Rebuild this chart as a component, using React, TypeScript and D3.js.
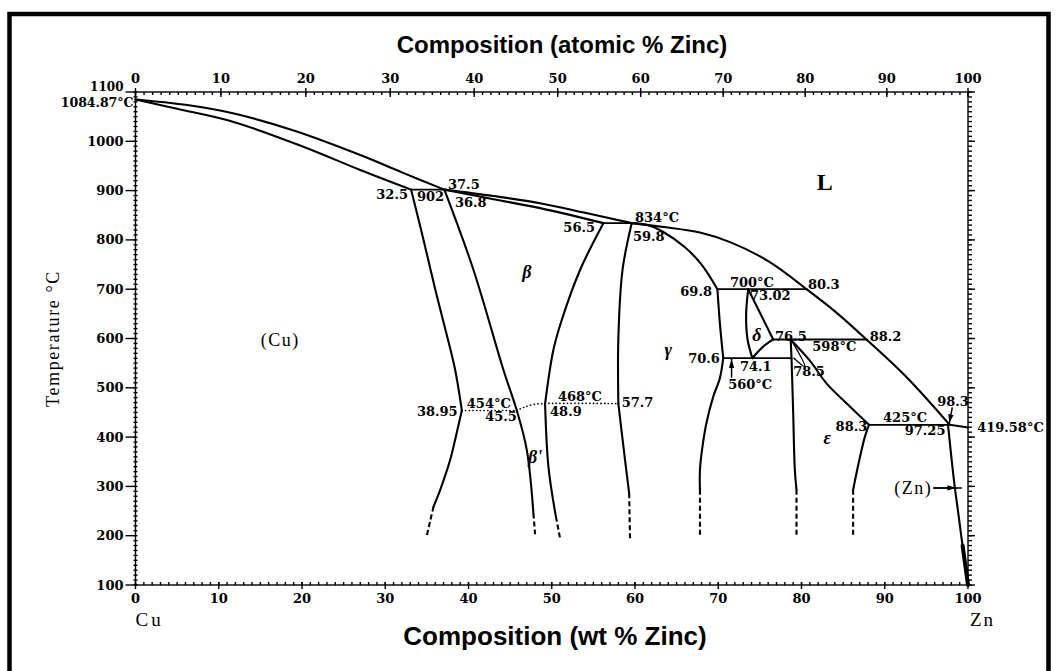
import React, { useRef, useEffect } from "react";
import * as d3 from "d3";

// axis ticks
const wtTicks = [0, 10, 20, 30, 40, 50, 60, 70, 80, 90, 100];
const atomicTicks = [0, 10, 20, 30, 40, 50, 60, 70, 80, 90, 100];
const tempTicks = [100, 200, 300, 400, 500, 600, 700, 800, 900, 1000, 1100];

// phase boundaries, [wt % Zn, temperature °C]
const liquidus = [
  [[0, 1084.87], [6, 1074], [11.7, 1056.8], [19, 1022], [27, 972.2], [32, 937], [37.1, 902]],
  [[37.1, 902], [43, 889], [48.6, 874.5], [54, 855], [59.6, 834]],
  [[59.6, 834], [63.5, 826], [67.8, 815], [71.5, 795], [76, 757], [80.6, 700]],
  [[80.6, 700], [84.3, 651], [87.8, 598]],
  [[87.8, 598], [92.6, 522], [97.8, 425]],
  [[97.8, 425], [100, 419.58]],
];
const alphaSolidus = [[0, 1084.87], [5, 1066], [11.7, 1039.8], [20, 990], [27, 941.8], [33.1, 902]];
const betaSolidus = [[37.1, 902], [43, 882.5], [48.6, 864.5], [56.2, 834]];
const alphaSolvus = [
  [[33.1, 902], [34.6, 800], [36.0, 700], [37.5, 600], [38.4, 536], [39.2, 454]],
  [[39.2, 454], [38.6, 410], [37.8, 354], [36.6, 293], [35.8, 259]],
];
const alphaSolvusDash = [[35.8, 259], [35.4, 230], [35.0, 201]];
const betaLeft = [[37.1, 902], [40.6, 739], [44.2, 536], [45.8, 454], [47.0, 374], [47.8, 245]];
const betaLeftDash = [[47.8, 245], [48.0, 203]];
const betaRight = [
  [[56.2, 834], [53.4, 739], [51.2, 637.5], [50.2, 577], [49.2, 468]],
  [[49.2, 468], [49.6, 340], [50.5, 238.5]],
];
const betaRightDash = [[50.5, 238.5], [51.0, 195]];
const gammaLeft = [
  [[59.6, 834], [58.5, 739], [58.0, 600], [58.0, 468]],
  [[58.0, 468], [58.8, 354], [59.3, 286]],
];
const gammaLeftDash = [[59.3, 286], [59.4, 195]];
const gammaUpper = [[59.6, 834], [61.5, 830], [63.5, 815], [66, 785], [68, 750], [69.9, 700]];
const gammaRight = [
  [[69.9, 700], [70.2, 630], [70.6, 560]],
  [[70.6, 560], [70.2, 520], [69.4, 482], [68.6, 430], [68.1, 380], [67.8, 333], [67.8, 293]],
];
const gammaRightDash = [[67.8, 293], [67.8, 197]];
const deltaLeft = [[73.6, 700], [73.35, 650], [73.5, 600], [74.1, 560]];
const deltaRight = [[73.6, 700], [76.6, 598]];
const deltaLower = [[76.6, 598], [75.3, 582], [74.1, 560]];
const epsilonLeft = [[78.7, 598], [78.8, 560], [79.0, 450], [79.2, 333], [79.4, 293]];
const epsilonLeftDash = [[79.4, 293], [79.4, 200]];
const epsilonUpper = [[78.7, 598], [81, 555], [83, 509], [85.5, 467], [88.1, 425]];
const epsilonRight = [[88.1, 425], [87.6, 400], [86.9, 350], [86.4, 310], [86.2, 293]];
const epsilonRightDash = [[86.2, 293], [86.2, 198]];
const etaSolvus = [[97.6, 425], [98.0, 360], [98.4, 300], [98.8, 250], [99.2, 198], [99.6, 150], [100, 100]];
const etaFoot = [[99.35, 180], [100, 100]];
const epsilonPointer = [[78.8, 596], [80.4, 543], [79.1, 560]];

// invariant lines
const isotherms = [
  { T: 902, from: 33.1, to: 37.1 },
  { T: 834, from: 56.2, to: 59.6 },
  { T: 700, from: 69.9, to: 80.6 },
  { T: 598, from: 76.6, to: 87.8 },
  { T: 560, from: 70.6, to: 78.8 },
  { T: 425, from: 88.1, to: 97.8 },
];
// ordering transitions (dotted)
const ordering454 = [[39.2, 454], [45.8, 454]];
const ordering468 = [[45.8, 454], [46.6, 460], [47.8, 466], [49.2, 468], [58.0, 468]];

// point labels [text, wt, T, anchor]
const pointLabels = [
  ["32.5", 32.73, 893, "end"],
  ["902", 33.81, 889, "start"],
  ["37.5", 37.54, 913.4, "start"],
  ["36.8", 38.38, 876.9, "start"],
  ["56.5", 55.2, 826, "end"],
  ["834°C", 60.0, 846, "start"],
  ["59.8", 59.76, 808, "start"],
  ["69.8", 69.25, 696, "end"],
  ["700°C", 71.4, 714.6, "start"],
  ["80.3", 80.78, 710.5, "start"],
  ["73.02", 73.8, 688, "start"],
  ["76.5", 76.82, 605, "start"],
  ["88.2", 88.2, 605, "start"],
  ["598°C", 81.3, 585, "start"],
  ["70.6", 70.2, 560.4, "end"],
  ["74.1", 72.6, 544, "start"],
  ["560°C", 71.2, 507.7, "start"],
  ["78.5", 79.0, 534, "start"],
  ["88.3", 87.9, 422.5, "end"],
  ["425°C", 89.8, 440.8, "start"],
  ["97.25", 92.4, 414.4, "start"],
  ["98.3", 96.3, 473.2, "start"],
  ["419.58°C", 101.1, 420.5, "start"],
  ["38.95", 38.7, 452.9, "end"],
  ["454°C", 39.8, 469.2, "start"],
  ["45.5", 42.0, 442.8, "start"],
  ["468°C", 50.75, 483.4, "start"],
  ["48.9", 49.8, 452.9, "start"],
  ["57.7", 58.4, 471.2, "start"],
];
const phaseLabels = [
  ["β", 47.0, 735],
  ["β'", 48.0, 359.6],
  ["γ", 64.0, 576.7],
  ["δ", 74.65, 607],
  ["ε", 83.1, 398],
];

const CU = 63.546;
const ZN = 65.38;

function App() {
  const svgRef = useRef(null);

  useEffect(() => {
    d3.select(svgRef.current).selectAll("*").remove();
    const svg = d3.select(svgRef.current);

    const x = d3.scaleLinear().domain([0, 100]).range([135.5, 968]);
    const y = d3.scaleLinear().domain([100, 1100]).range([585, 92]);
    const atToWt = (a) => (100 * a * ZN) / (a * ZN + (100 - a) * CU);
    const serif = "'DejaVu Serif', serif";
    const typewriter = "'Liberation Serif', serif";

    svg.append("defs").append("marker")
      .attr("id", "arrow")
      .attr("viewBox", "0 0 10 6")
      .attr("refX", 10).attr("refY", 3)
      .attr("markerWidth", 9).attr("markerHeight", 6)
      .attr("markerUnits", "userSpaceOnUse")
      .attr("orient", "auto")
      .append("path").attr("d", "M0,0L10,3L0,6Z").attr("fill", "#000");

    // frame
    svg.append("rect")
      .attr("x", 9.5).attr("y", 14).attr("width", 1039).attr("height", 700)
      .attr("fill", "none").attr("stroke", "#000").attr("stroke-width", 4.5);

    // titles
    svg.append("text").attr("x", 562).attr("y", 53).attr("text-anchor", "middle")
      .style("font-family", "'Liberation Sans', Arial, sans-serif").style("font-weight", "bold").style("font-size", "24px")
      .text("Composition (atomic % Zinc)");
    svg.append("text").attr("x", 555).attr("y", 645).attr("text-anchor", "middle")
      .style("font-family", "'Liberation Sans', Arial, sans-serif").style("font-weight", "bold").style("font-size", "26px")
      .text("Composition (wt % Zinc)");
    svg.append("text")
      .attr("transform", `translate(59,${(y(100) + y(1100)) / 2}) rotate(-90)`)
      .attr("text-anchor", "middle")
      .style("font-family", typewriter).style("font-size", "18px").style("letter-spacing", "1.6px")
      .text("Temperature °C");

    const ax = svg.append("g").attr("stroke", "#000").attr("stroke-width", 1.4);
    // plot box
    ax.append("rect")
      .attr("x", x(0)).attr("y", y(1100)).attr("width", x(100) - x(0)).attr("height", y(100) - y(1100))
      .attr("fill", "none");

    // minor ticks
    const minorT = d3.range(100, 1101, 10);
    ax.selectAll(".ml").data(minorT).join("line")
      .attr("x1", x(0) - 2).attr("x2", x(0) + 2).attr("y1", d => y(d)).attr("y2", d => y(d));
    ax.selectAll(".mr").data(minorT).join("line")
      .attr("x1", x(100)).attr("x2", x(100) + 4).attr("y1", d => y(d)).attr("y2", d => y(d));
    const minorW = d3.range(0, 101, 1);
    ax.selectAll(".mb").data(minorW).join("line")
      .attr("x1", d => x(d)).attr("x2", d => x(d)).attr("y1", y(100) - 3).attr("y2", y(100));
    ax.selectAll(".mt").data(minorW).join("line")
      .attr("x1", d => x(atToWt(d))).attr("x2", d => x(atToWt(d))).attr("y1", y(1100)).attr("y2", y(1100) + 3);

    // major ticks
    ax.selectAll(".Ml").data(tempTicks).join("line")
      .attr("x1", x(0) - 10).attr("x2", x(0)).attr("y1", d => y(d)).attr("y2", d => y(d));
    ax.selectAll(".Mr").data(tempTicks).join("line")
      .attr("x1", x(100)).attr("x2", x(100) + 7).attr("y1", d => y(d)).attr("y2", d => y(d));
    ax.selectAll(".Mb").data(wtTicks).join("line")
      .attr("x1", d => x(d)).attr("x2", d => x(d)).attr("y1", y(100) - 3).attr("y2", y(100) + 4);
    ax.selectAll(".Mt").data(atomicTicks).join("line")
      .attr("x1", d => x(atToWt(d))).attr("x2", d => x(atToWt(d))).attr("y1", y(1100) - 4).attr("y2", y(1100) + 5);

    const tl = svg.append("g")
      .style("font-family", serif).style("font-size", "13px").style("font-weight", "bold");
    tl.selectAll(".ly").data(tempTicks).join("text")
      .attr("x", x(0) - 12).attr("y", d => y(d)).attr("dy", d => (d === 1100 ? "-0.05em" : "0.35em"))
      .attr("text-anchor", "end").style("font-size", d => (d === 1100 ? "12px" : null)).text(d => d);
    tl.selectAll(".lb").data(wtTicks).join("text")
      .attr("x", d => x(d)).attr("y", 603).attr("text-anchor", "middle").text(d => d);
    tl.selectAll(".lt").data(atomicTicks).join("text")
      .attr("x", d => x(atToWt(d))).attr("y", 83).attr("text-anchor", "middle").text(d => d);
    tl.append("text").attr("x", x(0) - 2).attr("y", y(1084.87)).attr("dy", "0.62em")
      .attr("text-anchor", "end").style("font-size", "12.5px").text("1084.87°C");

    svg.append("text").attr("x", x(0)).attr("y", 626)
      .style("font-family", typewriter).style("font-size", "19px").style("letter-spacing", "3px").text("Cu");
    svg.append("text").attr("x", x(100) + 2).attr("y", 626)
      .style("font-family", typewriter).style("font-size", "19px").style("letter-spacing", "2px").text("Zn");

    // phase boundaries
    const line = d3.line().x(d => x(d[0])).y(d => y(d[1])).curve(d3.curveCatmullRom.alpha(0.5));
    const g = svg.append("g").attr("fill", "none").attr("stroke", "#000").attr("stroke-linecap", "round");
    const solid = [
      ...liquidus, alphaSolidus, betaSolidus, ...alphaSolvus, betaLeft, ...betaRight, ...gammaLeft,
      gammaUpper, ...gammaRight, deltaLeft, deltaRight, deltaLower, epsilonLeft, epsilonUpper,
      epsilonRight, etaSolvus,
    ];
    g.selectAll(".solid").data(solid).join("path")
      .attr("d", d => line(d)).attr("stroke-width", 2.1);
    g.append("path").attr("d", line(etaFoot)).attr("stroke-width", 4);
    g.selectAll(".iso").data(isotherms).join("line")
      .attr("x1", d => x(d.from)).attr("x2", d => x(d.to))
      .attr("y1", d => y(d.T)).attr("y2", d => y(d.T)).attr("stroke-width", 1.8);
    g.selectAll(".dash").data([alphaSolvusDash, betaLeftDash, betaRightDash, gammaLeftDash, gammaRightDash, epsilonLeftDash, epsilonRightDash]).join("path")
      .attr("d", d => line(d)).attr("stroke-width", 2.1).attr("stroke-linecap", "butt").attr("stroke-dasharray", "5 3");
    g.selectAll(".dot").data([ordering454, ordering468]).join("path")
      .attr("d", d => line(d)).attr("stroke-width", 1.7).attr("stroke-dasharray", "0.1 3.6");
    g.append("path").attr("d", line(epsilonPointer)).attr("stroke-width", 1.4).attr("stroke-linejoin", "miter");

    // arrows
    const arrows = g.append("g").attr("stroke-width", 1.5);
    arrows.append("line").attr("x1", x(71.6)).attr("x2", x(71.6)).attr("y1", y(522)).attr("y2", y(558))
      .attr("marker-end", "url(#arrow)");
    arrows.append("line").attr("x1", x(98.1)).attr("x2", x(97.75)).attr("y1", y(459)).attr("y2", y(428))
      .attr("marker-end", "url(#arrow)");
    arrows.append("line").attr("x1", x(95.9)).attr("x2", x(99.2)).attr("y1", y(297)).attr("y2", y(297));
    arrows.append("line").attr("x1", x(95.9)).attr("x2", x(98.6)).attr("y1", y(297)).attr("y2", y(297))
      .attr("marker-end", "url(#arrow)");

    // labels
    const lab = svg.append("g").style("font-family", serif).style("font-size", "13px").style("font-weight", "bold");
    lab.selectAll("text").data(pointLabels).join("text")
      .attr("x", d => x(d[1])).attr("y", d => y(d[2])).attr("dy", "0.36em")
      .attr("text-anchor", d => d[3]).text(d => d[0]);

    svg.append("g").selectAll("text").data(phaseLabels).join("text")
      .attr("x", d => x(d[1])).attr("y", d => y(d[2])).attr("dy", "0.35em").attr("text-anchor", "middle")
      .style("font-family", "'Liberation Serif', serif").style("font-style", "italic").style("font-weight", "bold")
      .style("font-size", "18px").text(d => d[0]);

    svg.append("text").attr("x", x(82.8)).attr("y", y(917.4)).attr("dy", "0.35em").attr("text-anchor", "middle")
      .style("font-family", "'Liberation Serif', serif").style("font-weight", "bold").style("font-size", "24px").text("L");
    svg.append("text").attr("x", x(17.4)).attr("y", y(597)).attr("dy", "0.35em").attr("text-anchor", "middle")
      .style("font-family", typewriter).style("font-size", "18px").style("letter-spacing", "1.5px").text("(Cu)");
    svg.append("text").attr("x", x(95.7)).attr("y", y(296.8)).attr("dy", "0.35em").attr("text-anchor", "end")
      .style("font-family", typewriter).style("font-size", "18px").style("letter-spacing", "1.5px").text("(Zn)");
  }, []);

  return (
    <svg ref={svgRef} width={1057} height={671}
      style={{ position: "absolute", left: 0, top: 0, background: "#fff" }} />
  );
}

export default App;
